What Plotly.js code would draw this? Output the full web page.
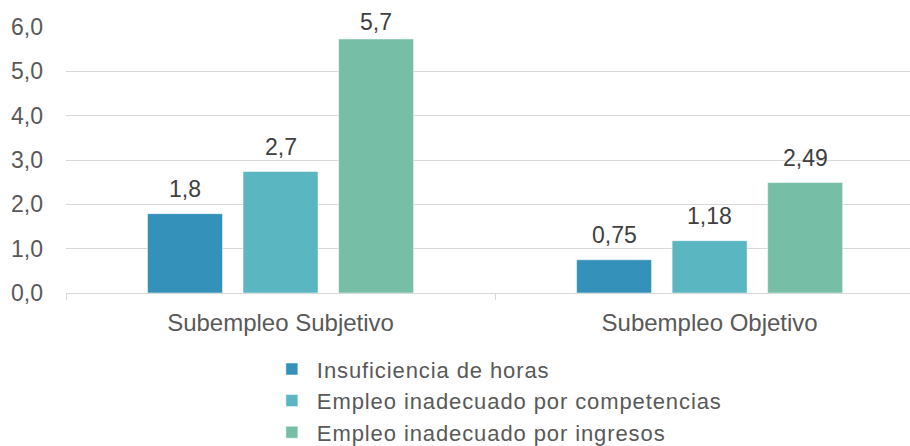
<!DOCTYPE html>
<html>
<head>
<meta charset="utf-8">
<script src="https://cdn.plot.ly/plotly-3.0.1.min.js"></script>
<style>
html,body{margin:0;padding:0;overflow:hidden;background:#fff}
.legendtext{letter-spacing:0.9px}
</style>
</head>
<body>
<div id="chart" style="width:910px;height:446px"></div>
<script>
const categories = ["Subempleo Subjetivo", "Subempleo Objetivo"];
const seriesNames = ["Insuficiencia de horas", "Empleo inadecuado por competencias", "Empleo inadecuado por ingresos"];
const horas = [1.79, 0.75];
const competencias = [2.74, 1.18];
const ingresos = [5.73, 2.49];
const horasLabels = ["1,8", "0,75"];
const competenciasLabels = ["2,7", "1,18"];
const ingresosLabels = ["5,7", "2,49"];
const yTickVals = [0, 1, 2, 3, 4, 5, 6];
const yTickText = ["0,0", "1,0", "2,0", "3,0", "4,0", "5,0", "6,0"];
const colors = ["#3492BA", "#5AB6C0", "#77BEA6"];

const values = [horas, competencias, ingresos];
const labels = [horasLabels, competenciasLabels, ingresosLabels];

const W = 910, H = 446;
const margin = {l: 66, r: 0, t: 27, b: 153, autoexpand: false};
const xRange = [-0.5, 1.467];
const yRange = [0, 6];
const bargap = 0.332;
const bargroupgap = 0.215;
const FONT = "Liberation Sans, Arial, sans-serif";

const traces = values.map((v, i) => ({
  type: "bar",
  name: seriesNames[i],
  x: categories,
  y: v,
  hoverinfo: "none",
  marker: {color: colors[i], line: {color: "rgba(255,255,255,0.5)", width: 1}}
}));

// label placement: anchored at each bar's value on the y scale, shifted to its slot in the group
const plotW = W - margin.l - margin.r;
const catPx = plotW / (xRange[1] - xRange[0]);
const slotPx = catPx * (1 - bargap) / values.length;
const plotH = H - margin.t - margin.b;
const labelCeil = yRange[1] - 20 / (plotH / (yRange[1] - yRange[0])); // keep labels inside the chart top
const annotations = [];
values.forEach((v, i) => {
  v.forEach((val, j) => {
    annotations.push({
      x: categories[j], xref: "x",
      y: Math.min(val, labelCeil), yref: "y",
      text: labels[i][j],
      showarrow: false,
      xanchor: "center", yanchor: "bottom",
      xshift: (i - (values.length - 1) / 2) * slotPx,
      yshift: 10,
      font: {family: FONT, size: 23, color: "#404040"}
    });
  });
});

const layout = {
  width: W,
  height: H,
  margin: margin,
  paper_bgcolor: "#fff",
  plot_bgcolor: "#fff",
  font: {family: FONT, color: "#595959", size: 23},
  barmode: "group",
  bargap: bargap,
  bargroupgap: bargroupgap,
  showlegend: true,
  annotations: annotations,
  legend: {
    orientation: "v",
    x: 0.238, xanchor: "left",
    y: -0.2075, yanchor: "top",
    itemwidth: 40,
    font: {family: FONT, size: 22, color: "#595959"},
    bgcolor: "rgba(0,0,0,0)"
  },
  xaxis: {
    type: "category",
    range: xRange,
    tickson: "boundaries",
    ticks: "outside",
    ticklen: 6,
    tickcolor: "#d9d9d9",
    showline: false,
    showgrid: false,
    zeroline: false,
    ticklabelstandoff: 13,
    tickfont: {family: FONT, size: 24, color: "#595959"}
  },
  yaxis: {
    range: yRange,
    tickvals: yTickVals,
    ticktext: yTickText,
    showgrid: true,
    gridcolor: "#d9d9d9",
    gridwidth: 1,
    zeroline: true,
    zerolinecolor: "#d9d9d9",
    zerolinewidth: 1,
    showline: false,
    ticks: "",
    ticklabelstandoff: 22,
    tickfont: {family: FONT, size: 23, color: "#595959"}
  }
};

Plotly.newPlot("chart", traces, layout, {displayModeBar: false, staticPlot: true});
</script>
</body>
</html>
